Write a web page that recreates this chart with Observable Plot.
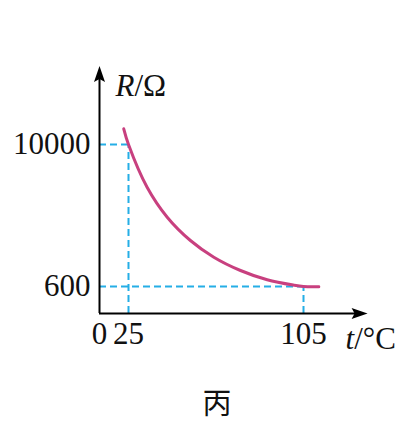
<!DOCTYPE html>
<html>
<head>
<meta charset="utf-8">
<script src="https://cdn.jsdelivr.net/npm/d3@7"></script>
<script src="https://cdn.jsdelivr.net/npm/@observablehq/plot@0.6"></script>
<style>
  html, body { margin: 0; padding: 0; background: #fff; }
  #wrap { position: relative; width: 400px; height: 421px; }
  #caption { position: absolute; left: 217px; top: 387px; transform: translateX(-50%);
    font-family: "Noto Sans CJK SC", sans-serif; font-size: 29px; line-height: 1; color: #111; }
</style>
</head>
<body>
<div id="wrap"><div id="chart"></div><div id="caption">丙</div></div>
<script>
// Curve data (t in °C, R in Ω), schematic scale
const curveT = [20.9, 25, 33.5, 42.7, 53.3, 64.0, 76.2, 88.4, 100.6, 105, 112];
const curveR = [11040, 10000, 7173, 5188, 3645, 2540, 1659, 1043, 686, 600, 595];
// Marked values
const xTicks = [0, 25, 105];
const yTicks = [600, 10000];
const guideT = [25, 105];
const guideR = [10000, 600];
// Axis extents (arrow tips)
const xAxisEnd = 134.3;
const yAxisEnd = 15200;
// Axis titles
const yTitle = "R/Ω";
const xTitle = "t/°C";

const curve = curveT.map((t, i) => ({t, R: curveR[i]}));
const guides = guideT.map((t, i) => ({t, R: guideR[i]}));

const arrowHead = {
  draw(ctx) {
    ctx.moveTo(0, 0);
    ctx.lineTo(5.5, 16);
    ctx.lineTo(0, 13);
    ctx.lineTo(-5.5, 16);
    ctx.closePath();
  }
};

const serif = "Liberation Serif, Times New Roman, serif";
const cyan = "#25aee6";
const pink = "#c8407f";
const ink = "#111";
const fs = 31;

const chart = Plot.plot({
  width: 400,
  height: 370,
  marginTop: 0, marginBottom: 0, marginLeft: 0, marginRight: 0,
  x: {type: "linear", domain: [0, 25, 105], range: [99, 128, 303], axis: null},
  y: {type: "linear", domain: [0, 600, 10000], range: [313, 286, 144], axis: null},
  style: {fontFamily: serif, background: "transparent", overflow: "visible"},
  marks: [
    // dashed guides
    Plot.ruleY(guides, {y: "R", x1: 0, x2: "t", stroke: cyan, strokeWidth: 2, strokeDasharray: "7,4"}),
    Plot.ruleX(guides, {x: "t", y1: 0, y2: "R", stroke: cyan, strokeWidth: 2, strokeDasharray: "7,4"}),
    // curve
    Plot.line(curve, {x: "t", y: "R", stroke: pink, strokeWidth: 3, curve: "catmull-rom"}),
    // axes lines
    Plot.ruleY([0], {x1: 0, x2: xAxisEnd - 3, stroke: "#000", strokeWidth: 2}),
    Plot.ruleX([0], {y1: 0, y2: yAxisEnd - 500, stroke: "#000", strokeWidth: 2}),
    // arrow heads
    Plot.dot([{t: xAxisEnd, R: 0}], {x: "t", y: "R", symbol: arrowHead, fill: "#000", stroke: "none", rotate: 90}),
    Plot.dot([{t: 0, R: yAxisEnd}], {x: "t", y: "R", symbol: arrowHead, fill: "#000", stroke: "none", rotate: 0}),
    // tick labels
    Plot.text(xTicks, {x: d => d, y: 0, text: d => String(d), lineAnchor: "top", dy: 8, fontSize: fs, fontFamily: serif, fill: ink}),
    Plot.text(yTicks, {x: 0, y: d => d, text: d => String(d), textAnchor: "end", lineAnchor: "middle", dx: -9, fontSize: fs, fontFamily: serif, fill: ink}),
    // axis titles
    Plot.text([yTitle], {x: 13.8, y: 13900, text: d => d, textAnchor: "start", lineAnchor: "middle", fontSize: fs, fontFamily: serif, fill: ink}),
    Plot.text([xTitle], {x: 124.2, y: 0, text: d => d, textAnchor: "start", lineAnchor: "top", dy: 13, fontSize: fs, fontFamily: serif, fill: ink})
  ]
});

// italicise the variable letters
d3.select(chart).selectAll("text").each(function() {
  const s = this.textContent;
  if (s === yTitle || s === xTitle) {
    const first = s[0], rest = s.slice(1);
    this.textContent = "";
    d3.select(this).append("tspan").attr("font-style", "italic").text(first);
    d3.select(this).append("tspan").text(rest);
  }
});

document.getElementById("chart").appendChild(chart);
</script>
</body>
</html>
